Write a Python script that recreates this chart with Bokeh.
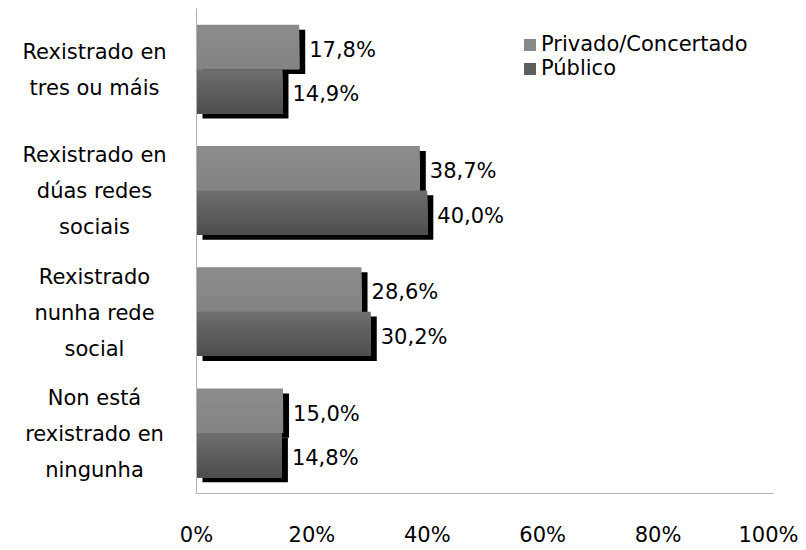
from bokeh.plotting import figure
from bokeh.layouts import row
from bokeh.models import (FactorRange, Range1d, ColumnDataSource,
                          Legend, LegendItem, FixedTicker)
from bokeh.transform import dodge
from bokeh.core.properties import value
from bokeh.embed import file_html
from bokeh.resources import INLINE

# ---------------- data ----------------
categories = [
    "Rexistrado en\ntres ou máis",
    "Rexistrado en\ndúas redes\nsociais",
    "Rexistrado\nnunha rede\nsocial",
    "Non está\nrexistrado en\nningunha",
]
series = ["Privado/Concertado", "Público"]
privado = [17.8, 38.7, 28.6, 15.0]
publico = [14.9, 40.0, 30.2, 14.8]
x_ticks = [0, 20, 40, 60, 80, 100]
x_tick_labels = ["0%", "20%", "40%", "60%", "80%", "100%"]

# ---------------- style ----------------
FONT = "DejaVu Sans"
FS = "21px"
BAR_H = 0.366      # height of one bar in category units
SH_X = 1.04        # shadow offset in x (percent units, ~6px)
SH_Y = 0.041       # shadow offset in y (category units, ~5px)
AXIS_COL = "#b4b4b4"
H = 549
TOP, BOTTOM = 8, 55
LEFT_W = 166
MAIN_LEFT = 30


def fmt(v):
    return f"{v:.1f}%".replace(".", ",")


def ramp(c0, c1, n):
    out = []
    for i in range(n):
        t = i / (n - 1) if n > 1 else 0
        c = [round(a + (b - a) * t) for a, b in zip(c0, c1)]
        out.append("#%02x%02x%02x" % tuple(c))
    return out


factors = list(reversed(categories))
yr = FactorRange(factors=factors)

p = figure(width=MAIN_LEFT + 577 + 25, height=H,
           y_range=yr, x_range=Range1d(0, 100),
           output_backend="svg", toolbar_location=None,
           min_border_left=MAIN_LEFT, min_border_right=25,
           min_border_top=TOP, min_border_bottom=BOTTOM)
p.background_fill_color = "white"
p.border_fill_color = "white"
p.outline_line_color = None
p.xgrid.visible = False
p.ygrid.visible = False

src = ColumnDataSource(dict(
    cat=categories,
    priv=privado,
    pub=publico,
    priv_sh=[v + SH_X for v in privado],
    pub_sh=[v + SH_X for v in publico],
    priv_lbl=[fmt(v) for v in privado],
    pub_lbl=[fmt(v) for v in publico],
))

# shadows
p.hbar(y=dodge("cat", BAR_H / 2 - SH_Y, range=yr), left=SH_X, right="priv_sh",
       height=BAR_H, fill_color="black", line_color=None, source=src)
p.hbar(y=dodge("cat", -BAR_H / 2 - SH_Y, range=yr), left=SH_X, right="pub_sh",
       height=BAR_H, fill_color="black", line_color=None, source=src)

# Privado bars (light, subtle vertical gradient)
n_pr = 6
step = BAR_H / n_pr
priv_cols = ramp((0x8b, 0x8b, 0x8b), (0x84, 0x84, 0x84), n_pr)
priv_renderers = []
for i, col in enumerate(priv_cols):
    h = BAR_H - i * step
    r = p.hbar(y=dodge("cat", h / 2, range=yr), left=0, right="priv",
               height=h, fill_color=col, line_color=None, source=src)
    priv_renderers.append(r)

# Público bars (dark, vertical gradient)
n_pu = 12
step = BAR_H / n_pu
pub_cols = ramp((0x6e, 0x6e, 0x6e), (0x4e, 0x4e, 0x4e), n_pu)
pub_renderers = []
for i, col in enumerate(pub_cols):
    h = BAR_H - i * step
    r = p.hbar(y=dodge("cat", -BAR_H / 2 - i * step / 2, range=yr), left=0, right="pub",
               height=h, fill_color=col, line_color=None, source=src)
    pub_renderers.append(r)

# data labels
p.text(x="priv", y=dodge("cat", BAR_H / 2, range=yr), text="priv_lbl", source=src,
       x_offset=10, y_offset=3, text_align="left", text_baseline="middle",
       text_font=value(FONT), text_font_size=FS, text_color="black")
p.text(x="pub", y=dodge("cat", -BAR_H / 2, range=yr), text="pub_lbl", source=src,
       x_offset=10, y_offset=3, text_align="left", text_baseline="middle",
       text_font=value(FONT), text_font_size=FS, text_color="black")

# axes
for ax in (p.xaxis[0], p.yaxis[0]):
    ax.axis_line_color = AXIS_COL
    ax.axis_line_width = 1
    ax.major_tick_out = 0
    ax.major_tick_in = 0
    ax.minor_tick_out = 0
    ax.minor_tick_in = 0
    ax.major_label_text_font = FONT
    ax.major_label_text_font_size = FS
    ax.major_label_text_color = "black"

p.xaxis.ticker = FixedTicker(ticks=x_ticks)
p.xaxis.major_label_overrides = {t: l for t, l in zip(x_ticks, x_tick_labels)}
p.xaxis.major_label_standoff = 29

# category names are drawn (centred, multi-line) in the companion panel
p.yaxis.ticker = FixedTicker(ticks=[])
p.yaxis.major_label_standoff = 0

# legend
legend = Legend(items=[LegendItem(label=series[0], renderers=[priv_renderers[2]]),
                       LegendItem(label=series[1], renderers=[pub_renderers[5]])],
                location=(326, 413), glyph_width=15, glyph_height=15,
                label_text_font=FONT, label_text_font_size=FS, label_text_color="black",
                padding=0, margin=0, spacing=0, label_standoff=4,
                border_line_color=None, background_fill_alpha=0)
p.add_layout(legend)

# category labels: a companion panel sharing the category range
lf = figure(width=LEFT_W, height=H, y_range=yr, x_range=Range1d(0, LEFT_W),
            x_axis_type=None, y_axis_type=None,
            output_backend="svg", toolbar_location=None,
            min_border_left=0, min_border_right=0,
            min_border_top=TOP, min_border_bottom=BOTTOM)
lf.outline_line_color = None
lf.xgrid.visible = False
lf.ygrid.visible = False
lf.text(x=94, y="cat", text="cat", source=src, y_offset=1,
        text_align="center", text_baseline="middle",
        text_font=value(FONT), text_font_size=FS, text_color="black",
        text_line_height=1.5)

layout = row(lf, p, spacing=0)
open("out.html", "w").write(file_html(layout, INLINE))
